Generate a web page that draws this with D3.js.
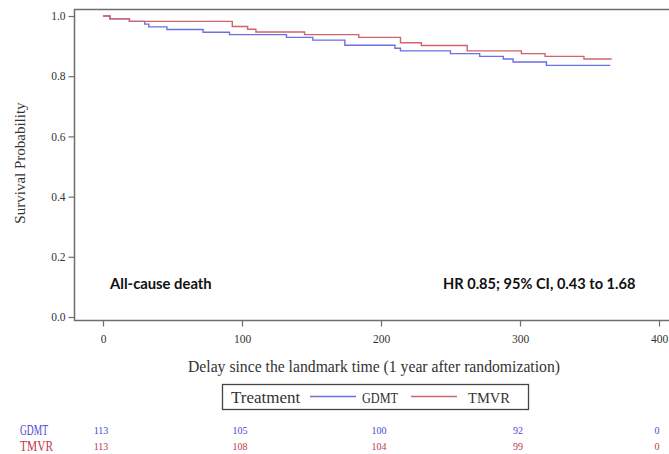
<!DOCTYPE html>
<html><head><meta charset="utf-8">
<script src="https://cdn.jsdelivr.net/npm/d3@7"></script>
<style>body{margin:0;background:#fff}</style>
</head><body>
<svg id="c" width="669" height="454"></svg>
<script>
// Kaplan-Meier step data (days, survival)
const gdmtTimes = [0, 5, 19, 30, 33, 46, 72, 91, 132, 151, 174, 210, 214, 250, 271, 288, 295, 319, 365];
const gdmtSurv  = [1.0, 0.991, 0.982, 0.973, 0.964, 0.955, 0.946, 0.938, 0.929, 0.920, 0.903, 0.893, 0.884, 0.875, 0.866, 0.857, 0.847, 0.836, 0.836];
const tmvrTimes = [0, 5, 19, 93, 104, 110, 145, 184, 214, 229, 262, 301, 318, 346, 366];
const tmvrSurv  = [1.0, 0.991, 0.982, 0.965, 0.956, 0.947, 0.938, 0.929, 0.911, 0.902, 0.884, 0.875, 0.866, 0.857, 0.857];
const xTicks = [0, 100, 200, 300, 400];
const yTicks = [0.0, 0.2, 0.4, 0.6, 0.8, 1.0];
const riskGDMT = [113, 105, 100, 92, 0];
const riskTMVR = [113, 108, 104, 99, 0];
const seriesNames = ["GDMT", "TMVR"];

const blue = "#6e6ee6", red = "#d0646e";
const blueTxt = "#4a4ad0", redTxt = "#c03848";
const svg = d3.select("#c");
const x = d3.scaleLinear().domain([0, 400]).range([103, 659]);
const y = d3.scaleLinear().domain([0, 1]).range([317, 16]);
const frame = {l: 74.5, t: 9.5, r: 690, b: 320.5};

// frame
svg.append("rect").attr("x", frame.l).attr("y", frame.t)
  .attr("width", frame.r - frame.l).attr("height", frame.b - frame.t)
  .attr("fill", "none").attr("stroke", "#6e6e6e").attr("stroke-width", 1.5);

const serif = "'Liberation Serif','Times New Roman',serif";
// y ticks
const yAxis = d3.axisLeft(y).tickValues(yTicks).tickFormat(d3.format(".1f")).tickSizeOuter(0).tickSize(6).tickPadding(3);
const gy = svg.append("g").attr("transform", `translate(${frame.l},0)`).call(yAxis);
gy.select(".domain").remove();
gy.selectAll("line").attr("stroke", "#6e6e6e").attr("stroke-width", 1.2);
gy.selectAll("text").attr("font-family", serif).attr("font-size", 11.5).attr("fill", "#333");

const xAxis = d3.axisBottom(x).tickValues(xTicks).tickFormat(d3.format("d")).tickSizeOuter(0).tickSize(6).tickPadding(8);
const gx = svg.append("g").attr("transform", `translate(0,${frame.b})`).call(xAxis);
gx.select(".domain").remove();
gx.selectAll("line").attr("stroke", "#6e6e6e").attr("stroke-width", 1.2);
gx.selectAll("text").attr("font-family", serif).attr("font-size", 11.5).attr("fill", "#333");

// curves
const line = d3.line().x(d => x(d[0])).y(d => y(d[1])).curve(d3.curveStepAfter);
const gd = gdmtTimes.map((t, i) => [t, gdmtSurv[i]]);
const tm = tmvrTimes.map((t, i) => [t, tmvrSurv[i]]);
svg.append("path").datum(gd).attr("d", line).attr("fill", "none").attr("stroke", blue).attr("stroke-width", 1.4);
svg.append("path").datum(tm).attr("d", line).attr("fill", "none").attr("stroke", red).attr("stroke-width", 1.4);

// annotations
const sans = "Lato,'Open Sans',sans-serif";
svg.append("text").attr("x", 110).attr("y", 289).text("All-cause death")
  .attr("font-family", sans).attr("font-weight", "bold").attr("font-size", 14.8).attr("fill", "#111");
svg.append("text").attr("x", 443).attr("y", 289).text("HR 0.85; 95% CI, 0.43 to 1.68")
  .attr("font-family", sans).attr("font-weight", "bold").attr("font-size", 14.6).attr("fill", "#111");

// axis titles
svg.append("text").attr("transform", "translate(25,163) rotate(-90)").attr("text-anchor", "middle")
  .text("Survival Probability").attr("font-family", serif).attr("font-size", 15).attr("fill", "#333");
svg.append("text").attr("x", 374).attr("y", 372).attr("text-anchor", "middle")
  .text("Delay since the landmark time (1 year after randomization)").attr("font-family", serif).attr("font-size", 15.7).attr("fill", "#333");

// legend
svg.append("rect").attr("x", 222.5).attr("y", 384.5).attr("width", 306).attr("height", 25)
  .attr("fill", "none").attr("stroke", "#444").attr("stroke-width", 1.3);
svg.append("text").attr("x", 231).attr("y", 403).text("Treatment").attr("font-family", serif).attr("font-size", 17).attr("fill", "#333");
const legItems = [{n: seriesNames[0], c: blue, x1: 310, tx: 362, w: 36}, {n: seriesNames[1], c: red, x1: 411, tx: 468, w: 42}];
legItems.forEach(d => {
  svg.append("line").attr("x1", d.x1).attr("x2", d.x1 + 46).attr("y1", 396.5).attr("y2", 396.5).attr("stroke", d.c).attr("stroke-width", 1.3);
  svg.append("text").attr("x", d.tx).attr("y", 403).text(d.n).attr("font-family", serif).attr("font-size", 15)
    .attr("textLength", d.w).attr("lengthAdjust", "spacingAndGlyphs").attr("fill", "#333");
});

// risk table
const rows = [{n: seriesNames[0], v: riskGDMT, c: blueTxt, y: 435, w: 28}, {n: seriesNames[1], v: riskTMVR, c: redTxt, y: 451, w: 33}];
rows.forEach(r => {
  svg.append("text").attr("x", 20).attr("y", r.y).text(r.n).attr("font-family", serif).attr("font-size", 14)
    .attr("textLength", r.w).attr("lengthAdjust", "spacingAndGlyphs").attr("fill", r.c);
  r.v.forEach((v, i) => {
    svg.append("text").attr("x", x(xTicks[i]) - 2).attr("y", r.y - 1).attr("text-anchor", "middle").text(v)
      .attr("font-family", serif).attr("font-size", 10).attr("fill", r.c);
  });
});
</script>
</body></html>
